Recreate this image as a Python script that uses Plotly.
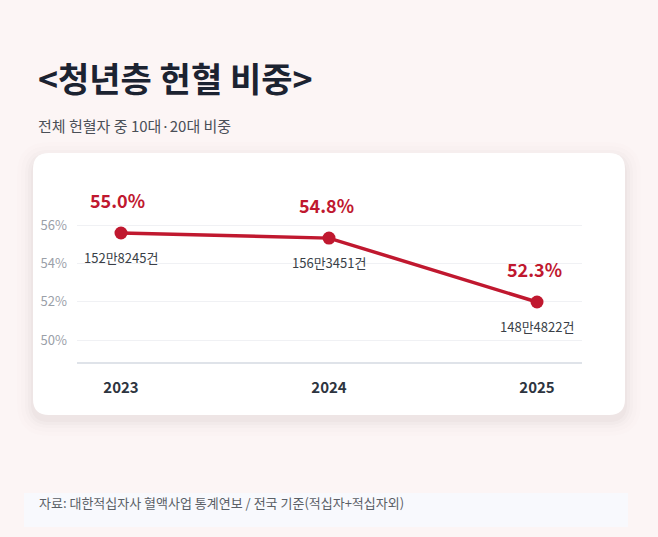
import plotly.graph_objects as go

# data
years = ["2023", "2024", "2025"]
share = [55.0, 54.8, 52.3]
share_labels = ["55.0%", "54.8%", "52.3%"]
donors = ["152만8245건", "156만3451건", "148만4822건"]
tick_vals = [50, 52, 54, 56]

W, H = 658, 537
RED = "#c0182f"
KR = "Noto Sans CJK KR, Noto Sans, sans-serif"


def px(x):
    return x / W


def py(y):
    return 1 - y / H


def rounded_rect(x0, y0, x1, y1, r):
    # pixel coordinates -> svg path in paper units
    pts = [
        ("M", x0 + r, y0), ("L", x1 - r, y0), ("Q", x1, y0, x1, y0 + r),
        ("L", x1, y1 - r), ("Q", x1, y1, x1 - r, y1), ("L", x0 + r, y1),
        ("Q", x0, y1, x0, y1 - r), ("L", x0, y0 + r), ("Q", x0, y0, x0 + r, y0),
    ]
    out = []
    for p in pts:
        cmd, vals = p[0], p[1:]
        coords = []
        for i in range(0, len(vals), 2):
            coords.append(f"{px(vals[i]):.5f},{py(vals[i + 1]):.5f}")
        out.append(cmd + " ".join(coords))
    return " ".join(out) + " Z"


shapes = []
# soft shadow around the card
for grow, alpha in [(16, 0.008), (12, 0.011), (8, 0.014), (5, 0.018), (2, 0.022)]:
    shapes.append(dict(type="path", xref="paper", yref="paper", layer="below",
                       path=rounded_rect(33 - grow, 153 - grow + 5, 625 + grow, 415 + grow + 5, 16 + grow),
                       fillcolor=f"rgba(70,50,50,{alpha})", line=dict(width=0)))
# card
shapes.append(dict(type="path", xref="paper", yref="paper", layer="below",
                   path=rounded_rect(33, 153, 625, 415, 16),
                   fillcolor="white", line=dict(width=0)))
# footer box
shapes.append(dict(type="rect", xref="paper", yref="paper", layer="below",
                   x0=px(24), x1=px(628), y0=py(527), y1=py(493),
                   fillcolor="#f8f9fd", line=dict(width=0)))

line = go.Scatter(x=years, y=share, mode="lines+markers",
                  line=dict(color=RED, width=3.5),
                  marker=dict(color=RED, size=13),
                  hoverinfo="skip", showlegend=False)

# invisible trace so the reference grid axis gets drawn
grid_anchor = go.Scatter(x=years, y=share, yaxis="y2",
                         mode="markers", marker=dict(opacity=0), hoverinfo="skip", showlegend=False)

annotations = []
for i, (v, lab, d) in enumerate(zip(share, share_labels, donors)):
    # category axis: annotation x is the category index
    annotations.append(dict(x=i, y=v, xref="x", yref="y", text=f"<b>{lab}</b>", showarrow=False,
                            yshift=33, xshift=-3, font=dict(family=KR, size=18, color=RED)))
    annotations.append(dict(x=i, y=v, xref="x", yref="y", text=d, showarrow=False,
                            yshift=-24, font=dict(family=KR, size=13, color="#3a3f47")))

annotations += [
    dict(x=px(36), y=py(78), xref="paper", yref="paper", xanchor="left", yanchor="middle",
         text="<b>&lt;청년층 헌혈 비중&gt;</b>", showarrow=False,
         font=dict(family=KR, size=34, color="#1c2331")),
    dict(x=px(36), y=py(125), xref="paper", yref="paper", xanchor="left", yanchor="middle",
         text="전체 헌혈자 중 10대·20대 비중", showarrow=False,
         font=dict(family=KR, size=15, color="#4a4f57")),
    dict(x=px(37), y=py(502), xref="paper", yref="paper", xanchor="left", yanchor="middle",
         text="자료: 대한적십자사 혈액사업 통계연보 / 전국 기준(적십자+적십자외)", showarrow=False,
         font=dict(family=KR, size=13, color="#5a5f66")),
]

layout = go.Layout(
    width=W, height=H,
    margin=dict(l=0, r=0, t=0, b=0),
    paper_bgcolor="#fcf5f5",
    plot_bgcolor="rgba(0,0,0,0)",
    shapes=shapes,
    annotations=annotations,
    xaxis=dict(type="category", categoryorder="array", categoryarray=years,
               domain=[px(77), px(582)], range=[-0.2115, 2.2163],
               showgrid=False, zeroline=False, showline=True, linecolor="#dfe3e9", linewidth=2,
               ticks="", ticklabelstandoff=11,
               tickfont=dict(family=KR, size=15, color="#2d3440", weight="bold"),
               fixedrange=True),
    # data axis (no ticks shown)
    yaxis=dict(domain=[py(362), py(180)], range=[49.953, 57.074],
               showgrid=False, zeroline=False, showline=False, showticklabels=False,
               ticks="", fixedrange=True),
    # reference grid axis
    yaxis2=dict(overlaying="y", side="left", range=[48.852, 58.348],
                tickmode="array", tickvals=tick_vals, ticktext=[f"{v}%" for v in tick_vals],
                showgrid=True, gridcolor="#f0f1f4", gridwidth=1,
                zeroline=False, showline=False, ticks="", ticklabelstandoff=9,
                tickfont=dict(family=KR, size=13, color="#9aa0a8"), fixedrange=True),
)

fig = go.Figure(data=[grid_anchor, line], layout=layout)
fig.write_html("out.html", config={"displayModeBar": False},
               post_script="document.body.style.margin='0';")
